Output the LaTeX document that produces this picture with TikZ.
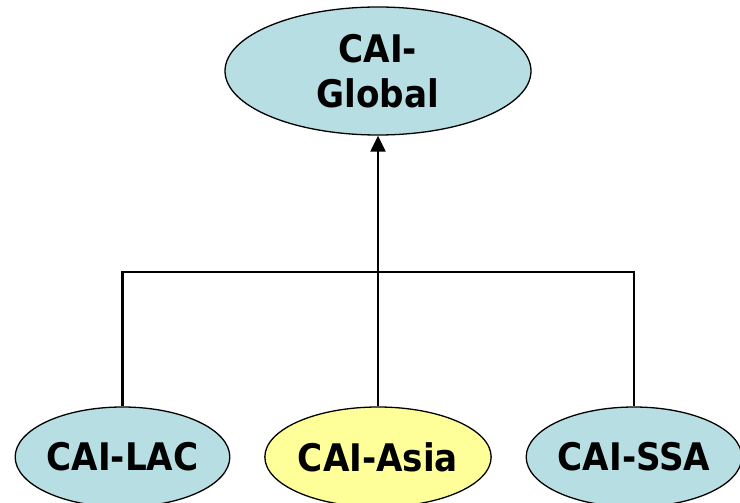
\documentclass[tikz,border=0pt]{standalone}
\usepackage{fontspec}
\setmainfont{DejaVu Sans}
\newfontfamily\labelfont{DejaVu Sans Condensed}
\usetikzlibrary{shapes.geometric,arrows.meta}
\definecolor{cblue}{RGB}{183,222,227}
\definecolor{cyell}{RGB}{255,255,153}
\tikzset{
  oval/.style={ellipse, draw=black, line width=1.3pt, inner sep=0pt, align=center,
    font=\labelfont\fontsize{38}{45}\selectfont\bfseries},
  link/.style={line width=2.2pt}
}
\begin{document}
\begin{tikzpicture}[x=1pt,y=-1pt]
\useasboundingbox (0,0) rectangle (740,503);
\clip (0,0) rectangle (740,503);
\node[oval, fill=cblue, minimum width=306pt, minimum height=128pt] (global) at (378,71) {CAI-\\Global};
\node[oval, fill=cblue, minimum width=210pt, minimum height=100pt] (lac) at (122.5,457) {CAI-LAC};
\node[oval, fill=cyell, minimum width=224pt, minimum height=100pt] (asia) at (378,457) {CAI-Asia};
\node[oval, fill=cblue, minimum width=210pt, minimum height=100pt] (ssa) at (634,457) {CAI-SSA};
\coordinate (hl) at (122.5,272);
\coordinate (hr) at (634,272);
\draw[link] (lac.north) -- (hl) -- (hr) -- (ssa.north);
\draw[link, -{Triangle[width=15pt,length=16pt]}] (asia.north) -- (global.south);
\end{tikzpicture}
\end{document}
